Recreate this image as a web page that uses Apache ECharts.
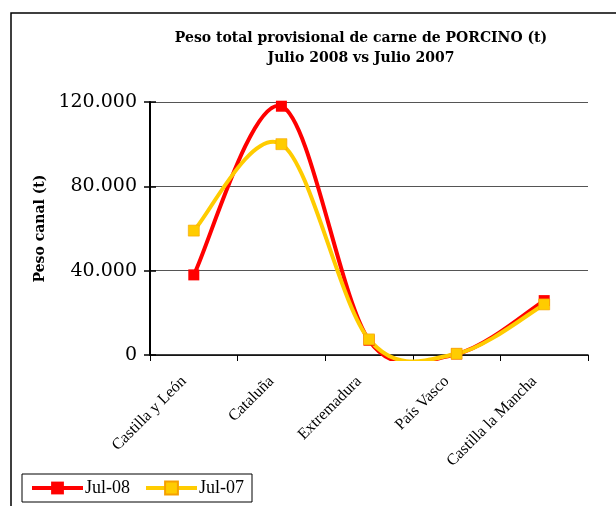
<!DOCTYPE html>
<html>
<head>
<meta charset="utf-8">
<script src="https://cdn.jsdelivr.net/npm/echarts@6/dist/echarts.min.js"></script>
<style>
  html, body { margin: 0; padding: 0; background: #fff; }
  #chart { width: 616px; height: 506px; }
</style>
</head>
<body>
<div id="chart"></div>
<script>
  // datos
  const categories = ['Castilla y León', 'Cataluña', 'Extremadura', 'País Vasco', 'Castilla la Mancha']
  const jul08 = [38000, 118000, 7000, 500, 25800]
  const jul07 = [59000, 100000, 7400, 600, 24000]
  const yTicks = [0, 40000, 80000, 120000]

  const serif = 'DejaVu Serif'
  const times = 'Liberation Serif'
  const RED = '#ff0000'
  const YELLOW = '#ffcc00'
  const fmtMiles = v => String(v).replace(/\B(?=(\d{3})+(?!\d))/g, '.')

  const dist = (a, b) => Math.hypot(a[0] - b[0], a[1] - b[1])

  // curva suavizada tipo Excel (bezier con tension 1/6 limitada)
  function curveSeries(name, values, color){
    return {
      name: name,
      type: 'custom',
      data: values.map((v, i) => [i, v]),
      encode: { x: 0, y: 1 },
      clip: false,
      silent: true,
      renderItem(params, api){
        const n = values.length
        const i = params.dataIndex
        if (i >= n - 1) return { type: 'group', children: [] }
        const pt = k => {
          k = Math.max(0, Math.min(n - 1, k))
          return api.coord([k, values[k]])
        }
        const p0 = pt(i - 1), p1 = pt(i), p2 = pt(i + 1), p3 = pt(i + 2)
        const d12 = dist(p1, p2)
        const d02 = dist(p0, p2), d13 = dist(p1, p3)
        const f1 = d02 > 0 ? Math.min(1 / 6, 0.5 * d12 / d02) : 1 / 6
        const f2 = d13 > 0 ? Math.min(1 / 6, 0.5 * d12 / d13) : 1 / 6
        const cs = params.coordSys
        return {
          type: 'bezierCurve',
          shape: {
            x1: p1[0], y1: p1[1],
            x2: p2[0], y2: p2[1],
            cpx1: p1[0] + (p2[0] - p0[0]) * f1,
            cpy1: p1[1] + (p2[1] - p0[1]) * f1,
            cpx2: p2[0] - (p3[0] - p1[0]) * f2,
            cpy2: p2[1] - (p3[1] - p1[1]) * f2
          },
          clipPath: {
            type: 'rect',
            shape: { x: cs.x - 10, y: cs.y - 10, width: cs.width + 20, height: cs.height + 16 }
          },
          style: { stroke: color, fill: 'none', lineWidth: 4, lineCap: 'round' }
        }
      }
    }
  }

  function markerSeries(name, values, color, border){
    return {
      name: name,
      type: 'line',
      data: values,
      clip: false,
      symbol: 'rect',
      symbolSize: 11,
      lineStyle: { color: color, width: 4, opacity: 0 },
      itemStyle: { color: color, borderColor: border, borderWidth: border ? 0.6 : 0 }
    }
  }

  var myChart = echarts.init(document.getElementById('chart'))

  const option = {
    animation: false,
    backgroundColor: '#fff',
    textStyle: { fontFamily: serif, color: '#000' },
    graphic: [
      {
        type: 'rect',
        shape: { x: 11, y: 13, width: 700, height: 600 },
        style: { fill: 'none', stroke: '#000', lineWidth: 1.5 },
        silent: true
      }
    ],
    title: {
      text: 'Peso total provisional de carne de PORCINO (t)\nJulio 2008 vs Julio 2007',
      left: 356,
      top: 23,
      textAlign: 'center',
      textStyle: {
        fontFamily: serif,
        fontSize: 14,
        fontWeight: 'bold',
        color: '#000',
        lineHeight: 20
      }
    },
    legend: {
      left: 22,
      top: 474,
      orient: 'horizontal',
      data: [
        { name: 'Jul-08', itemStyle: { color: RED }, lineStyle: { color: RED, width: 4, opacity: 1 } },
        { name: 'Jul-07', itemStyle: { color: YELLOW }, lineStyle: { color: YELLOW, width: 4, opacity: 1 } }
      ],
      borderColor: '#000',
      borderWidth: 1,
      padding: [5, 8, 5, 8],
      itemWidth: 51,
      itemHeight: 16,
      itemGap: 14,
      textStyle: { fontFamily: times, fontSize: 18, color: '#000', padding: [0, 0, 0, -3] }
    },
    grid: {
      left: 150,
      right: 28,
      top: 102,
      bottom: 151,
      containLabel: false
    },
    xAxis: {
      type: 'category',
      data: categories,
      boundaryGap: true,
      axisLine: { lineStyle: { color: '#000', width: 1.5 } },
      axisTick: { show: true, length: 6, interval: 0, lineStyle: { color: '#000', width: 1 } },
      axisLabel: {
        interval: 0,
        rotate: 45,
        margin: 14,
        padding: [0, 14, 0, 0],
        fontFamily: times,
        fontSize: 16,
        color: '#000'
      }
    },
    yAxis: [
      {
        type: 'value',
        min: yTicks[0],
        max: yTicks[yTicks.length - 1],
        interval: 40000,
        name: 'Peso canal (t)',
        nameLocation: 'middle',
        nameGap: 103,
        nameTextStyle: { fontFamily: serif, fontSize: 14, fontWeight: 'bold', color: '#000' },
        axisLine: { show: true, lineStyle: { color: '#000', width: 2 } },
        axisTick: { show: true, length: 6, lineStyle: { color: '#000', width: 1.5 } },
        axisLabel: {
          margin: 13,
          fontFamily: serif,
          fontSize: 19,
          color: '#000',
          formatter: fmtMiles
        },
        splitLine: { show: true, lineStyle: { color: '#555', width: 1 } }
      },
      {
        // solo para las marcas cruzadas del eje
        type: 'value',
        position: 'left',
        min: yTicks[0],
        max: yTicks[yTicks.length - 1],
        interval: 40000,
        axisLine: { show: false },
        axisTick: { show: true, inside: true, length: 6, lineStyle: { color: '#000', width: 1.5 } },
        axisLabel: { show: false },
        splitLine: { show: false }
      }
    ],
    series: [
      curveSeries('curva Jul-08', jul08, RED),
      markerSeries('Jul-08', jul08, RED),
      curveSeries('curva Jul-07', jul07, YELLOW),
      markerSeries('Jul-07', jul07, YELLOW, '#f5a000')
    ]
  }

  myChart.setOption(option)
</script>
</body>
</html>
